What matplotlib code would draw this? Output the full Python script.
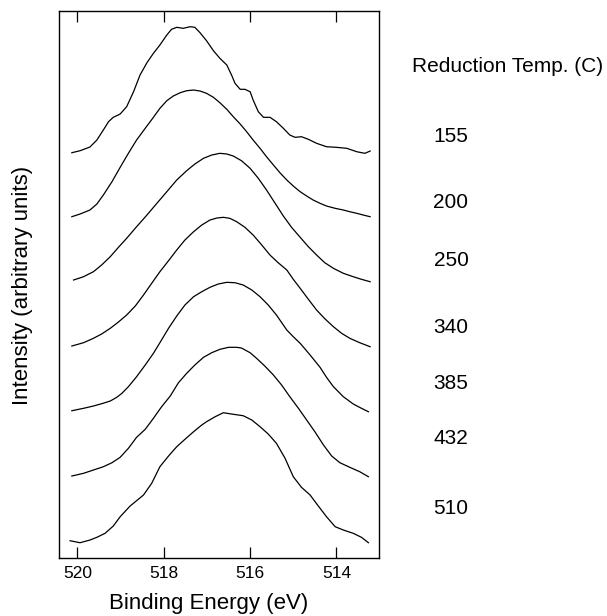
import matplotlib.pyplot as plt

plt.rcParams['font.family'] = ['Liberation Sans', 'DejaVu Sans']

# reduction temperatures (C), top to bottom
temps = ['155', '200', '250', '340', '385', '432', '510']

# binding energy (eV) and stacked intensity (arbitrary units) for each spectrum
e_155 = [520.13, 519.94, 519.71, 519.55, 519.40, 519.28, 519.17, 519.01, 518.86, 518.70,
         518.55, 518.39, 518.24, 518.09, 517.93, 517.82, 517.70, 517.55, 517.39, 517.28,
         517.16, 517.01, 516.85, 516.70, 516.54, 516.43, 516.35, 516.23, 516.12, 516.00,
         515.93, 515.81, 515.69, 515.54, 515.39, 515.23, 515.08, 514.96, 514.81, 514.65,
         514.46, 514.23, 514.00, 513.76, 513.53, 513.34, 513.22]
i_155 = [405.0, 407.0, 410.7, 417.7, 427.7, 436.0, 440.4, 443.7, 451.0, 466.0,
         482.7, 495.0, 504.4, 512.7, 522.7, 528.4, 530.4, 529.4, 531.0, 530.4,
         525.0, 517.0, 507.0, 499.4, 492.7, 482.7, 474.4, 468.4, 468.4, 466.0,
         457.7, 446.0, 440.4, 440.4, 436.0, 429.4, 422.7, 420.4, 421.0, 418.4,
         414.4, 411.0, 410.4, 409.4, 406.0, 404.4, 406.7]

e_200 = [520.13, 519.94, 519.71, 519.55, 519.40, 519.20, 519.01, 518.82, 518.63, 518.43,
         518.24, 518.09, 517.93, 517.78, 517.62, 517.47, 517.31, 517.16, 517.01, 516.85,
         516.70, 516.54, 516.39, 516.23, 516.08, 515.93, 515.77, 515.62, 515.46, 515.31,
         515.15, 515.00, 514.84, 514.69, 514.54, 514.38, 514.23, 514.03, 513.84, 513.69,
         513.53, 513.38, 513.22]
i_200 = [341.0, 343.7, 347.7, 353.7, 362.7, 376.0, 390.4, 404.4, 417.7, 429.4,
         440.4, 449.4, 457.0, 461.7, 465.0, 467.0, 467.7, 466.7, 464.4, 460.4,
         455.0, 448.4, 441.0, 433.7, 426.0, 417.7, 409.4, 401.0, 392.7, 385.0,
         377.7, 371.7, 366.0, 361.7, 357.7, 354.4, 351.7, 349.4, 347.7, 346.0,
         344.4, 342.7, 341.0]

e_250 = [520.09, 519.86, 519.63, 519.44, 519.24, 519.05, 518.86, 518.63, 518.39, 518.16,
         517.93, 517.70, 517.47, 517.28, 517.08, 516.89, 516.70, 516.54, 516.39, 516.20,
         516.00, 515.81, 515.62, 515.42, 515.23, 515.04, 514.84, 514.65, 514.46, 514.27,
         514.07, 513.84, 513.61, 513.42, 513.22]
i_250 = [277.7, 281.0, 286.0, 292.7, 301.0, 310.4, 319.4, 331.0, 342.7, 354.4,
         366.0, 377.7, 387.0, 393.7, 399.4, 402.7, 404.4, 403.7, 401.7, 397.0,
         389.4, 379.4, 367.7, 354.4, 341.7, 330.4, 320.4, 311.0, 302.7, 295.0,
         289.4, 284.4, 281.0, 278.4, 276.0]

e_340 = [520.13, 519.86, 519.63, 519.44, 519.24, 519.05, 518.86, 518.66, 518.47, 518.28,
         518.09, 517.89, 517.70, 517.51, 517.31, 517.12, 516.93, 516.77, 516.62, 516.47,
         516.31, 516.12, 515.93, 515.73, 515.54, 515.35, 515.15, 515.00, 514.84, 514.65,
         514.46, 514.27, 514.07, 513.88, 513.69, 513.46, 513.22]
i_340 = [211.7, 215.0, 219.4, 223.7, 229.4, 235.7, 242.7, 251.7, 262.7, 274.4,
         286.0, 297.0, 307.7, 317.7, 326.0, 332.7, 337.7, 339.7, 340.4, 339.4,
         336.0, 330.4, 322.7, 312.7, 302.7, 295.0, 287.7, 278.4, 269.4, 258.4,
         247.7, 239.0, 231.0, 224.4, 219.4, 215.0, 211.0]

e_385 = [520.13, 519.86, 519.63, 519.44, 519.24, 519.09, 518.97, 518.82, 518.63, 518.43,
         518.24, 518.09, 517.89, 517.70, 517.51, 517.31, 517.12, 516.93, 516.74, 516.54,
         516.35, 516.16, 515.96, 515.77, 515.58, 515.39, 515.15, 515.00, 514.84, 514.61,
         514.38, 514.23, 514.07, 513.84, 513.61, 513.42, 513.26]
i_385 = [147.0, 149.4, 151.7, 154.0, 156.7, 160.4, 164.4, 171.0, 181.0, 192.7,
         204.4, 215.0, 229.4, 241.7, 252.7, 261.0, 266.0, 270.4, 273.7, 275.4,
         275.0, 272.7, 267.7, 261.0, 252.7, 242.7, 227.7, 221.0, 214.4, 202.7,
         190.4, 180.4, 171.0, 161.0, 153.7, 149.4, 146.0]

e_432 = [520.13, 519.86, 519.63, 519.40, 519.20, 519.01, 518.82, 518.63, 518.43, 518.24,
         518.05, 517.85, 517.66, 517.47, 517.28, 517.08, 516.89, 516.70, 516.50, 516.31,
         516.20, 516.00, 515.85, 515.66, 515.46, 515.27, 515.08, 514.88, 514.69, 514.50,
         514.30, 514.11, 513.92, 513.69, 513.46, 513.26]
i_432 = [81.7, 84.4, 87.7, 91.0, 95.0, 100.4, 109.4, 120.4, 128.4, 139.4,
         151.0, 161.7, 175.0, 184.4, 192.7, 200.4, 205.0, 208.4, 210.4, 210.4,
         209.7, 205.0, 199.4, 191.7, 182.7, 172.7, 161.0, 149.4, 137.7, 126.0,
         112.7, 101.7, 95.0, 90.4, 86.0, 81.0]

e_510 = [520.17, 519.94, 519.71, 519.55, 519.36, 519.17, 519.01, 518.78, 518.47, 518.28,
         518.09, 517.89, 517.70, 517.51, 517.31, 517.12, 517.01, 516.81, 516.62, 516.43,
         516.16, 515.96, 515.77, 515.58, 515.39, 515.19, 515.00, 514.81, 514.61, 514.42,
         514.23, 514.03, 513.84, 513.61, 513.42, 513.26]
i_510 = [17.0, 15.0, 17.7, 20.4, 24.4, 31.7, 41.0, 51.7, 62.7, 74.4,
         91.0, 101.7, 111.0, 118.4, 126.0, 132.7, 136.0, 141.0, 145.0, 143.7,
         142.0, 137.7, 131.0, 123.7, 114.4, 99.4, 81.0, 70.4, 62.7, 51.7,
         41.0, 31.0, 27.7, 24.4, 20.4, 15.0]

energies = [e_155, e_200, e_250, e_340, e_385, e_432, e_510]
intensities = [i_155, i_200, i_250, i_340, i_385, i_432, i_510]

fig = plt.figure(figsize=(6.07, 6.16), dpi=100)
ax = fig.add_axes([0.0977, 0.0946, 0.527, 0.888])

for e, y in zip(energies, intensities):
    ax.plot(e, y, color='black', lw=0.9, solid_joinstyle='round')

ax.set_xlim(520.42, 513.01)
ax.set_ylim(0, 547)
ax.set_xticks([520, 518, 516, 514])
ax.set_yticks([])
ax.tick_params(axis='x', direction='in', length=8, width=0.9, top=True,
               labelsize=12.5, pad=6, colors='black')
for s in ax.spines.values():
    s.set_linewidth(1.0)

fig.text(209 / 607, 1 - 604 / 616, 'Binding Energy (eV)', ha='center', va='center', fontsize=16)
fig.text(23 / 607, 1 - 285 / 616, 'Intensity (arbitrary units)', ha='center', va='center',
         rotation=90, fontsize=16)

fig.text(508 / 607, 1 - 67 / 616, 'Reduction Temp. (C)', ha='center', va='center', fontsize=15)
label_y = [136.7, 202.7, 261, 327.7, 383.3, 439, 509]
for t, yp in zip(temps, label_y):
    fig.text(451 / 607, 1 - yp / 616, t, ha='center', va='center', fontsize=15)

fig.savefig('out.png', dpi=100)
